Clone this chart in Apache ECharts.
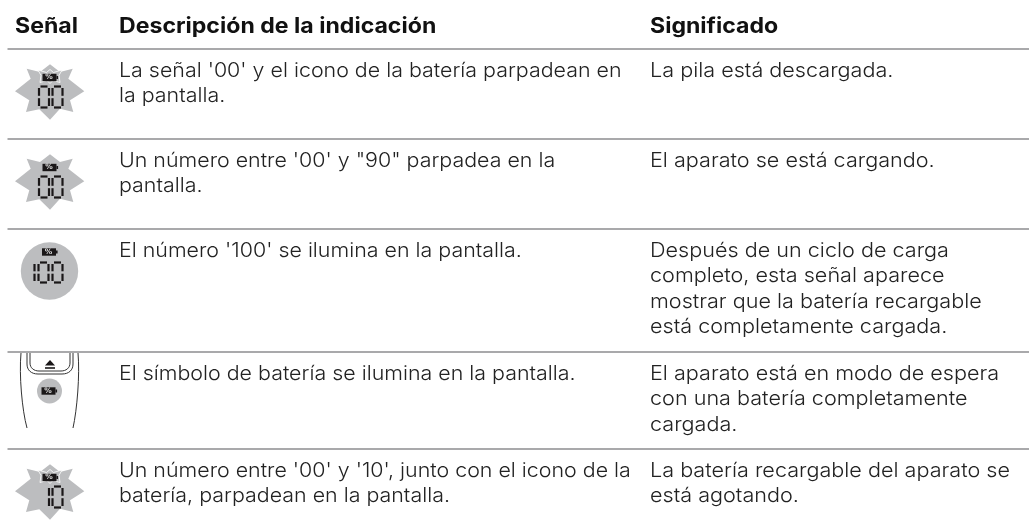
<!DOCTYPE html>
<html><head><meta charset="utf-8"><style>html,body{margin:0;background:#fff}#c{width:1029px;height:531px}</style>
<script src="https://cdn.jsdelivr.net/npm/echarts@6/dist/echarts.min.js"></script></head><body><div id="c"></div>
<script>
const headers = ['Señal', 'Descripción de la indicación', 'Significado'];
const descriptions = [
 ["La señal '00' y el icono de la batería parpadean en", "la pantalla."],
 ["Un número entre '00' y \"90\" parpadea en la", "pantalla."],
 ["El número '100' se ilumina en la pantalla."],
 ["El símbolo de batería se ilumina en la pantalla."],
 ["Un número entre '00' y '10', junto con el icono de la", "batería, parpadean en la pantalla."]
];
const meanings = [
 ["La pila está descargada."],
 ["El aparato se está cargando."],
 ["Después de un ciclo de carga", "completo, esta señal aparece", "mostrar que la batería recargable", "está completamente cargada."],
 ["El aparato está en modo de espera", "con una batería completamente", "cargada."],
 ["La batería recargable del aparato se", "está agotando."]
];
const iconDigits = ['00', '00', '100', '', '10'];
const iconShapes = ['burst', 'burst', 'disc', 'device', 'burst'];
const rowTops = [49, 139, 229, 352, 449];
const rowFirstLine = [70.5, 160.5, 250.5, 373.5, 470.5];
const rowIconY = [92, 182, 271, 391, 492];

const FONT = 'Inter, "Open Sans", sans-serif';
const LINE_GAP = 25.6;
const els = [];
const txt = (x, y, s, size, weight, fill, sx) => els.push({type:'text', x, y, scaleX:sx, style:{text:s, font:`${weight} ${size}px ${FONT}`, fill, textVerticalAlign:'middle'}});
const ln = (x1,y1,x2,y2,stroke,w) => els.push({type:'line', shape:{x1,y1,x2,y2}, style:{stroke, lineWidth:w}});
const curve = (x1,y1,cpx1,cpy1,cpx2,cpy2,x2,y2,w) => els.push({type:'bezierCurve', shape:{x1,y1,cpx1,cpy1,cpx2,cpy2,x2,y2}, style:{stroke:'#333',fill:'none',lineWidth:w}});
const GREY='#bcbdbf', DK='#1a1718';

headers.forEach((h,i)=>txt([15,119,650][i], 27, h, 21, 700, '#111', 1.1));
rowTops.forEach(y => ln(7.5, y, 1029, y, '#8c8d8f', 1.3));

descriptions.forEach((lines,i)=>lines.forEach((s,j)=>txt(119, rowFirstLine[i]+j*LINE_GAP, s, 20, 300, '#222', 1.07)));
meanings.forEach((lines,i)=>lines.forEach((s,j)=>txt(650, rowFirstLine[i]+j*LINE_GAP, s, 20, 300, '#222', 1.08)));

function burstPoints(cx,cy){
  const out=[[0,-27.7],[10,-20],[22.7,-23.3],[18.3,-13.3],[34.3,-0.7],[20,8.3],[23.3,20],[10,16.7],[0,27.7],[-10.7,17.3],[-24,20],[-20.7,8.3],[-35,-0.7],[-19.3,-13.3],[-23.3,-23.3],[-10,-20]];
  return out.map(p=>[cx+p[0],cy+p[1]]);
}
function smallStar(cx,cy){
  const out=[[0,-7.5],[3.5,-4.5],[12,-7],[9,-1.5],[10,5.5],[3,3.5],[0,6.5],[-3,3.5],[-10,5.5],[-9,-1.5],[-12,-7],[-3.5,-4.5]];
  return out.map(p=>[cx+p[0],cy+p[1]]);
}
function battery(cx,cy,w){
  els.push({type:'rect',shape:{x:cx-w/2,y:cy-3.7,width:w,height:7.4},style:{fill:DK}});
  els.push({type:'rect',shape:{x:cx+w/2,y:cy-1.5,width:1.6,height:3},style:{fill:DK}});
  els.push({type:'text',x:cx-0.5,y:cy,style:{text:'%',font:'700 7.5px "DejaVu Sans"',fill:'#ddd',textAlign:'center',textVerticalAlign:'middle'}});
}
const SEG={'0':[1,1,1,0,1,1,1],'1':[0,0,1,0,0,1,0]};
function digit(x,cy,d,w,h){
  const s=SEG[d], hh=h/2;
  const segs=[[1.5,-hh,w-1.5,-hh],[0,-hh+1.5,0,-1.2],[w,-hh+1.5,w,-1.2],[1.5,0,w-1.5,0],[0,1.2,0,hh-1.5],[w,1.2,w,hh-1.5],[1.5,hh,w-1.5,hh]];
  segs.forEach((g,i)=>{if(s[i])ln(x+g[0],cy+g[1],x+g[2],cy+g[3],DK,2.2);});
}
function digits(x1,cy,str,w,h,gap){
  let x=x1;
  for(let k=str.length-1;k>=0;k--){
    digit(x-w,cy,str[k],w,h);
    x-=w+gap;
  }
}
iconShapes.forEach((t,i)=>{
  const cy=rowIconY[i], cx=50;
  if(t==='burst'){
    els.push({type:'polygon',shape:{points:burstPoints(cx,cy)},style:{fill:GREY}});
    if(i!==1) els.push({type:'polygon',shape:{points:smallStar(cx,cy-15)},style:{stroke:'#fff',lineWidth:0.8,fill:GREY}});
    battery(cx-0.5,cy-14.5,14);
    digits(62.5,cy+5,iconDigits[i],10,21,3.5);
  } else if(t==='disc'){
    els.push({type:'circle',shape:{cx:49.5,cy,r:28.7},style:{fill:GREY}});
    battery(49,cy-19,14);
    digits(62.5,cy+1.5,iconDigits[i],10,20,4);
  } else {
    const top=rowTops[3]+1;
    curve(21,top,19,375,22,410,27,428,1);
    curve(78,top,80,375,77,410,73,428,1);
    ln(27,top,27,364,'#333',1); ln(73,top,73,364,'#333',1);
    curve(27,364,27,370,31,374,38,374,1); curve(73,364,73,370,69,374,62,374,1); ln(38,374,62,374,'#333',1);
    ln(30,top,30,363,'#333',1); ln(70,top,70,363,'#333',1);
    curve(30,363,30,368,34,371,39,371,1); curve(70,363,70,368,66,371,61,371,1); ln(39,371,61,371,'#333',1);
    els.push({type:'polygon',shape:{points:[[45,365.5],[55,365.5],[50,360]]},style:{fill:DK}});
    ln(45,368,55,368,DK,1.6);
    els.push({type:'circle',shape:{cx:49.5,cy,r:12.5},style:{fill:GREY}});
    battery(48.5,cy,14);
  }
});
const chart = echarts.init(document.getElementById('c'),null,{renderer:'canvas'});
chart.setOption({animation:false, backgroundColor:'#fff', graphic:{elements:els}});
</script></body></html>
